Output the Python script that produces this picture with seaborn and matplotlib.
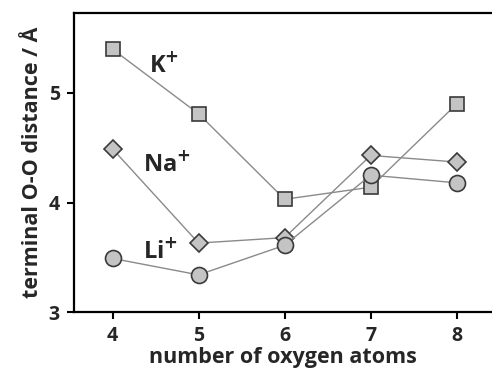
import matplotlib
matplotlib.use("Agg")
import matplotlib.pyplot as plt
import seaborn as sns
import pandas as pd

oxygens = [4, 5, 6, 7, 8]
k_vals = [5.40, 4.81, 4.03, 4.14, 4.90]
na_vals = [4.49, 3.63, 3.68, 4.43, 4.37]
li_vals = [3.49, 3.34, 3.61, 4.25, 4.18]
ions = ["K", "Na", "Li"]
labels = [r"K$^{\mathbf{+}}$", r"Na$^{\mathbf{+}}$", r"Li$^{\mathbf{+}}$"]

sns.set_theme(style="white")
plt.rcParams['font.family'] = ['Open Sans', 'DejaVu Sans']
plt.rcParams['mathtext.default'] = 'bf'

fig = plt.figure(figsize=(4.92, 3.72), dpi=100)
ax = fig.add_axes([0.150, 0.161, 0.85, 0.804])

series = {"K": (k_vals, "s", 10), "Na": (na_vals, "D", 9.5), "Li": (li_vals, "o", 11.5)}
for ion in ions:
    vals, mk, ms = series[ion]
    df = pd.DataFrame({"n": oxygens, "d": vals})
    sns.lineplot(data=df, x="n", y="d", ax=ax, color="#8a8a8a", lw=1.0,
                 marker=mk, markersize=ms, markerfacecolor="#c4c4c4",
                 markeredgecolor="#3a3a3a", markeredgewidth=1.2)

ax.set_xlim(3.55, 8.41)
ax.set_ylim(3.0, 5.73)
ax.set_xticks(oxygens)
ax.set_yticks([3, 4, 5])
ax.tick_params(axis="both", direction="out", length=5, width=1.5, color="black",
               labelsize=14, pad=5, bottom=True, left=True)
for lab in ax.get_xticklabels() + ax.get_yticklabels():
    lab.set_fontweight("bold")

for side in ["top", "left", "bottom"]:
    ax.spines[side].set_color("black")
    ax.spines[side].set_linewidth(1.6)
ax.spines["right"].set_visible(False)

ax.set_xlabel("number of oxygen atoms", fontsize=15.5, fontweight="bold", labelpad=1)
ax.set_ylabel("terminal O-O distance / Å", fontsize=15.5, fontweight="bold", labelpad=4)

ax.text(4.42, 5.25, labels[0], fontsize=17, fontweight="bold", ha="left", va="center")
ax.text(4.35, 4.35, labels[1], fontsize=17, fontweight="bold", ha="left", va="center")
ax.text(4.35, 3.55, labels[2], fontsize=17, fontweight="bold", ha="left", va="center")

fig.savefig("out.png", dpi=100)
